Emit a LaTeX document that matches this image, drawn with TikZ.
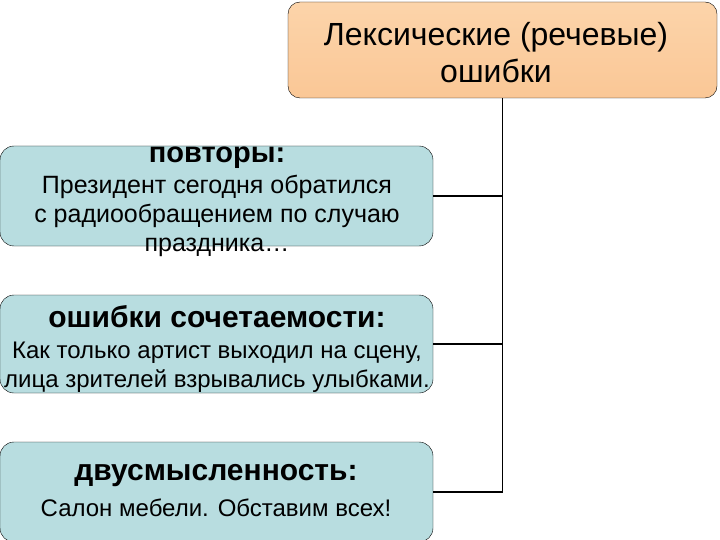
\documentclass[tikz,border=0pt]{standalone}
\usepackage{fontspec}
\setmainfont{Liberation Sans}
\definecolor{peach}{RGB}{250,199,150}
\definecolor{peachlight}{RGB}{252,212,170}
\definecolor{paleblue}{RGB}{184,221,224}
\usetikzlibrary{positioning,calc}

\begin{document}
\begin{tikzpicture}[x=1pt, y=-1pt,
    topbox/.style={rectangle, rounded corners=12pt, draw=black, thin,
                   top color=peachlight, bottom color=peach,
                   minimum width=429pt, minimum height=96pt},
    errbox/.style={rectangle, rounded corners=14pt, draw=black, thin, fill=paleblue,
                   minimum width=433pt, minimum height=100pt},
    errtext/.style={align=center, inner sep=0pt, font=\fontsize{25}{29}\selectfont},
    link/.style={draw=black, line width=1.5pt}]
    \useasboundingbox (0,0) rectangle (720,540);

    % main box
    \node[topbox] (lex) at (502.5,50) {};
    \node[align=center, inner sep=0pt, font=\fontsize{32}{37}\selectfont]
        (lextext) at (496,53) {Лексические (речевые)\\ошибки};

    % three kinds of errors
    \node[errbox] (rep) at (216.5,196) {};
    \node[errtext] (reptext) at (217,202) {\fontsize{29}{29}\selectfont\textbf{повторы:}\\[2pt]
        Президент сегодня обратился\\с радиообращением по случаю\\праздника…};

    \node[errbox, minimum height=98pt] (comb) at (216.5,344) {};
    \node[errtext, font=\fontsize{24}{29}\selectfont] (combtext) at (217,349)
        {\fontsize{30}{29}\selectfont\textbf{ошибки сочетаемости:}\\[2pt]
        Как только артист выходил на сцену,\\лица зрителей взрывались улыбками.};

    \node[errbox] (amb) at (216.5,492) {};
    \node[errtext, font=\fontsize{24}{29}\selectfont] (ambtext) at (216,491)
        {\fontsize{30}{29}\selectfont\textbf{двусмысленность:}\\[7pt]
        Салон мебели. Обставим всех!};

    % connectors
    \draw[link] (lex.south) -- (lex.south |- amb.east);
    \draw[link] (rep.east) -- (rep.east -| lex.south);
    \draw[link] (comb.east) -- (comb.east -| lex.south);
    \draw[link] (amb.east) -- (amb.east -| lex.south);
\end{tikzpicture}
\end{document}
